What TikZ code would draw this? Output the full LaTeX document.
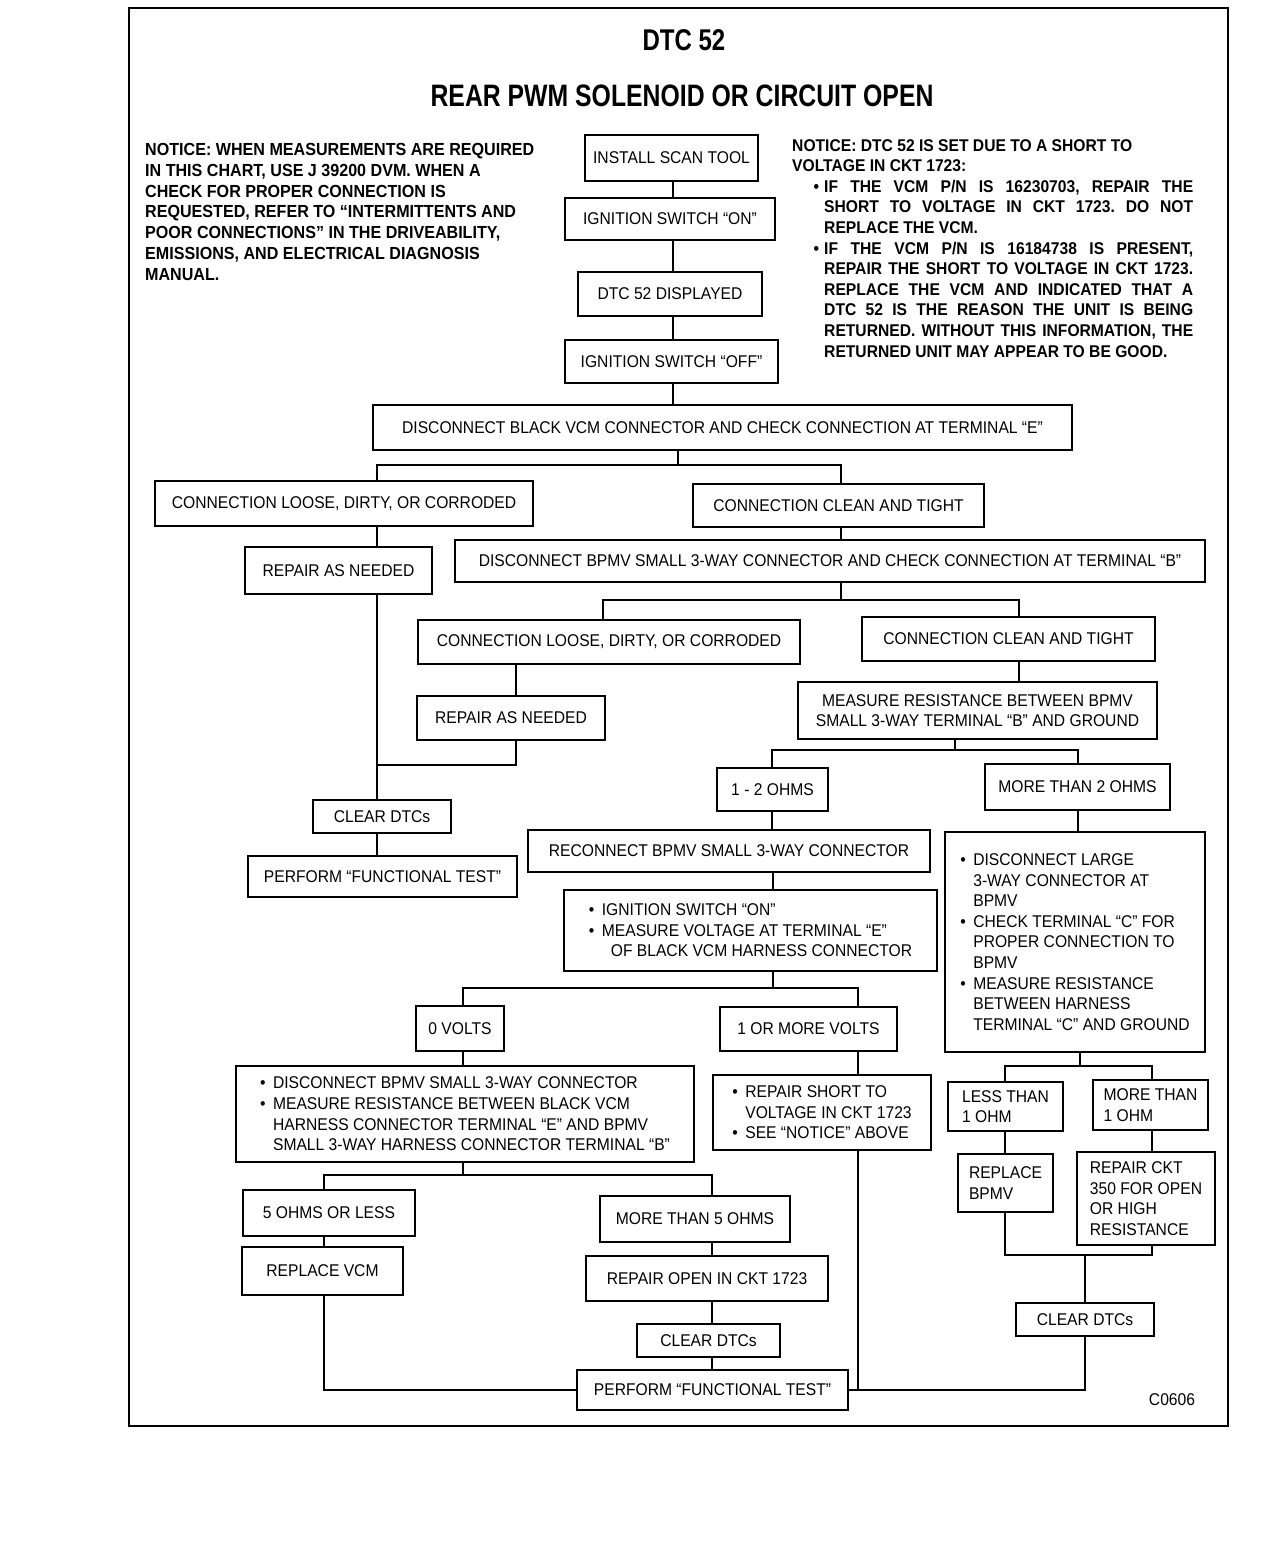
\documentclass[tikz,border=0pt]{standalone}
\usepackage{fontspec}
\setmainfont[FakeStretch=0.92]{Liberation Sans}
\newfontfamily\titlefont[FakeStretch=0.8]{Liberation Sans}
\usepackage{tikz}
\newcommand{\bul}{\makebox[13pt][l]{\textbullet}}
\newcommand{\bulgap}{\hspace*{13pt}}
\frenchspacing

\begin{document}
\begin{tikzpicture}[x=1pt, y=-1pt,
    box/.style={draw, line width=1.7pt, inner sep=0pt, align=left, font=\fontsize{17}{20.6}\selectfont},
    notice/.style={inner sep=0pt, font=\bfseries\fontsize{17.5}{20.8}\selectfont},
    link/.style={line width=1.3pt}]
    \useasboundingbox (0,0) rectangle (1264,1552);

    % cornice
    \draw[line width=2.4pt] (129,8) rectangle (1228,1426);

    % titoli
    \node[inner sep=0pt, font=\titlefont\bfseries\fontsize{30}{32}\selectfont] (dtc) at (684,40) {DTC 52};
    \node[inner sep=0pt, font=\titlefont\bfseries\fontsize{31}{33}\selectfont] (rear) at (682,96) {REAR PWM SOLENOID OR CIRCUIT OPEN};

    % note
    \node[notice, anchor=north west, align=left] (noteL) at (145,143) {NOTICE: WHEN MEASUREMENTS ARE REQUIRED\\
        IN THIS CHART, USE J 39200 DVM. WHEN A\\
        CHECK FOR PROPER CONNECTION IS\\
        REQUESTED, REFER TO “INTERMITTENTS AND\\
        POOR CONNECTIONS” IN THE DRIVEABILITY,\\
        EMISSIONS, AND ELECTRICAL DIAGNOSIS\\
        MANUAL.};
    \node[notice, font=\bfseries\fontsize{17}{20.6}\selectfont, anchor=north west, text width=401pt, align=justify] (noteR) at (792,139) {\tolerance=10000
        \noindent NOTICE: DTC 52 IS SET DUE TO A SHORT TO\newline VOLTAGE IN CKT 1723:\par
        \leftskip=32pt
        \noindent\llap{\textbullet\hspace{5pt}}IF THE VCM P/N IS 16230703, REPAIR THE\linebreak SHORT TO VOLTAGE IN CKT 1723. DO NOT\linebreak REPLACE THE VCM.\par
        \noindent\llap{\textbullet\hspace{5pt}}IF THE VCM P/N IS 16184738 IS PRESENT,\linebreak REPAIR THE SHORT TO VOLTAGE IN CKT 1723.\linebreak REPLACE THE VCM AND INDICATED THAT A\linebreak DTC 52 IS THE REASON THE UNIT IS BEING\linebreak RETURNED. WITHOUT THIS INFORMATION, THE\linebreak RETURNED UNIT MAY APPEAR TO BE GOOD.\par};

    % blocchi in alto
    \node[box, minimum width=173pt, minimum height=46pt] (scan) at (671.5,158) {INSTALL SCAN TOOL};
    \node[box, minimum width=210pt, minimum height=42pt] (ignon) at (670,219) {IGNITION SWITCH “ON”};
    \node[box, minimum width=184pt, minimum height=44pt] (shown) at (670,294) {DTC 52 DISPLAYED};
    \node[box, minimum width=213pt, minimum height=43pt] (ignoff) at (671.5,361.5) {IGNITION SWITCH “OFF”};
    \node[box, minimum width=699pt, minimum height=45pt] (discE) at (722.5,427.5) {DISCONNECT BLACK VCM CONNECTOR AND CHECK CONNECTION AT TERMINAL “E”};

    % ramo terminale E
    \node[box, minimum width=378pt, minimum height=45pt] (loose1) at (344,503.5) {CONNECTION LOOSE, DIRTY, OR CORRODED};
    \node[box, minimum width=291pt, minimum height=43pt] (clean1) at (838.5,505.5) {CONNECTION CLEAN AND TIGHT};
    \node[box, minimum width=187pt, minimum height=47pt] (repair1) at (338.5,570.5) {REPAIR AS NEEDED};
    \node[box, minimum width=750pt, minimum height=42pt] (discB) at (830,561) {DISCONNECT BPMV SMALL 3-WAY CONNECTOR AND CHECK CONNECTION AT TERMINAL “B”};
    \node[box, minimum width=138pt, minimum height=33pt] (clear1) at (382,816.5) {CLEAR DTCs};
    \node[box, minimum width=269pt, minimum height=41pt] (perf1) at (382.5,876.5) {PERFORM “FUNCTIONAL TEST”};

    % ramo terminale B
    \node[box, minimum width=382pt, minimum height=44pt] (loose2) at (609,642) {CONNECTION LOOSE, DIRTY, OR CORRODED};
    \node[box, minimum width=293pt, minimum height=44pt] (clean2) at (1008.5,639) {CONNECTION CLEAN AND TIGHT};
    \node[box, minimum width=188pt, minimum height=44pt] (repair2) at (511,718) {REPAIR AS NEEDED};
    \node[box, align=center, minimum width=359pt, minimum height=57pt] (measure) at (977.5,710.5) {MEASURE RESISTANCE BETWEEN BPMV\\ SMALL 3-WAY TERMINAL “B” AND GROUND};
    \node[box, minimum width=111pt, minimum height=43pt] (ohms12) at (772.5,789.5) {1 - 2 OHMS};
    \node[box, minimum width=185pt, minimum height=46pt] (more2) at (1077.5,787) {MORE THAN 2 OHMS};

    % 1 - 2 ohm
    \node[box, minimum width=402pt, minimum height=42pt] (reconn) at (729,851) {RECONNECT BPMV SMALL 3-WAY CONNECTOR};
    \node[box, minimum width=373pt, minimum height=81pt] (measV) at (750.5,930.5) {\bul IGNITION SWITCH “ON”\\
        \bul MEASURE VOLTAGE AT TERMINAL “E”\\
        \hspace*{22pt}OF BLACK VCM HARNESS CONNECTOR};
    \node[box, minimum width=88pt, minimum height=45pt] (volts0) at (460,1028.5) {0 VOLTS};
    \node[box, minimum width=177pt, minimum height=44pt] (volts1) at (808.5,1029) {1 OR MORE VOLTS};
    \node[box, minimum width=458pt, minimum height=96pt] (measR) at (465,1114) {\bul DISCONNECT BPMV SMALL 3-WAY CONNECTOR\\
        \bul MEASURE RESISTANCE BETWEEN BLACK VCM\\
        \bulgap HARNESS CONNECTOR TERMINAL “E” AND BPMV\\
        \bulgap SMALL 3-WAY HARNESS CONNECTOR TERMINAL “B”};
    \node[box, minimum width=218pt, minimum height=75pt] (short) at (822,1112.5) {\bul REPAIR SHORT TO\\
        \bulgap VOLTAGE IN CKT 1723\\
        \bul SEE “NOTICE” ABOVE};
    \node[box, minimum width=172pt, minimum height=46pt] (ohms5) at (329,1213) {5 OHMS OR LESS};
    \node[box, minimum width=190pt, minimum height=46pt] (more5) at (695,1219) {MORE THAN 5 OHMS};
    \node[box, minimum width=161pt, minimum height=48pt] (replVCM) at (322.5,1271) {REPLACE VCM};
    \node[box, minimum width=242pt, minimum height=45pt] (openCKT) at (707,1278.5) {REPAIR OPEN IN CKT 1723};
    \node[box, minimum width=143pt, minimum height=33pt] (clear2) at (708.5,1340.5) {CLEAR DTCs};
    \node[box, minimum width=271pt, minimum height=40pt] (perf2) at (712.5,1390) {PERFORM “FUNCTIONAL TEST”};

    % piu di 2 ohm
    \node[box, minimum width=260pt, minimum height=220pt] (large) at (1075,942) {\bul DISCONNECT LARGE\\
        \bulgap 3-WAY CONNECTOR AT\\
        \bulgap BPMV\\
        \bul CHECK TERMINAL “C” FOR\\
        \bulgap PROPER CONNECTION TO\\
        \bulgap BPMV\\
        \bul MEASURE RESISTANCE\\
        \bulgap BETWEEN HARNESS\\
        \bulgap TERMINAL “C” AND GROUND};
    \node[box, minimum width=115pt, minimum height=49pt] (less1) at (1005.5,1106.5) {LESS THAN\\ 1 OHM};
    \node[box, minimum width=115pt, minimum height=50pt] (more1) at (1150.5,1105) {MORE THAN\\ 1 OHM};
    \node[box, minimum width=95pt, minimum height=58pt] (replBPMV) at (1005.5,1183) {REPLACE\\ BPMV};
    \node[box, minimum width=138pt, minimum height=93pt] (ckt350) at (1146,1198.5) {REPAIR CKT\\ 350 FOR OPEN\\ OR HIGH\\ RESISTANCE};
    \node[box, minimum width=138pt, minimum height=33pt] (clear3) at (1085,1319.5) {CLEAR DTCs};

    \node[inner sep=0pt, font=\fontsize{17}{20}\selectfont] (code) at (1172,1400) {C0606};

    % colonne e nodi dei rami
    \coordinate (cA) at (673,0);
    \coordinate (cL) at (377,0);
    \coordinate (cR) at (841,0);
    \coordinate (cL2) at (516,0);
    \coordinate (cR2) at (1019,0);
    \coordinate (c12) at (772,0);
    \coordinate (cM2) at (1078,0);
    \coordinate (c0) at (463,0);
    \coordinate (c1V) at (858,0);
    \coordinate (cV) at (324,0);
    \coordinate (c5) at (712,0);
    \coordinate (cLT) at (1005,0);
    \coordinate (cMT) at (1152,0);
    \coordinate (s1) at (678,465);
    \coordinate (s2) at (841,600);
    \coordinate (s3) at (955,750);
    \coordinate (s4) at (773,988);
    \coordinate (s5) at (463,1175);
    \coordinate (s6) at (1080,1066);
    \coordinate (j1) at (377,765);
    \coordinate (j3) at (1085,1255);

    % collegamenti
    \draw[link] (scan.south -| cA) -- (ignon.north -| cA);
    \draw[link] (ignon.south -| cA) -- (shown.north -| cA);
    \draw[link] (shown.south -| cA) -- (ignoff.north -| cA);
    \draw[link] (ignoff.south -| cA) -- (discE.north -| cA);
    \draw[link] (discE.south -| s1) -- (s1);
    \draw[link] (loose1.north -| cL) |- (s1) -| (clean1.north -| cR);
    \draw[link] (loose1.south -| cL) -- (repair1.north -| cL);
    \draw[link] (repair1.south -| cL) -- (clear1.north -| cL);
    \draw[link] (clear1.south -| cL) -- (perf1.north -| cL);
    \draw[link] (clean1.south -| cR) -- (discB.north -| cR);
    \draw[link] (discB.south -| s2) -- (s2);
    \draw[link] (loose2.north -| 603,0) |- (s2) -| (clean2.north -| cR2);
    \draw[link] (loose2.south -| cL2) -- (repair2.north -| cL2);
    \draw[link] (repair2.south -| cL2) |- (j1);
    \draw[link] (clean2.south -| cR2) -- (measure.north -| cR2);
    \draw[link] (measure.south -| s3) -- (s3);
    \draw[link] (ohms12.north -| c12) |- (s3) -| (more2.north -| cM2);
    \draw[link] (ohms12.south -| c12) -- (reconn.north -| c12);
    \draw[link] (reconn.south -| s4) -- (measV.north -| s4);
    \draw[link] (measV.south -| s4) -- (s4);
    \draw[link] (volts0.north -| c0) |- (s4) -| (volts1.north -| c1V);
    \draw[link] (volts0.south -| c0) -- (measR.north -| c0);
    \draw[link] (volts1.south -| c1V) -- (short.north -| c1V);
    \draw[link] (measR.south -| s5) -- (s5);
    \draw[link] (ohms5.north -| cV) |- (s5) -| (more5.north -| c5);
    \draw[link] (ohms5.south -| cV) -- (replVCM.north -| cV);
    \draw[link] (replVCM.south -| cV) |- (perf2.west);
    \draw[link] (more5.south -| c5) -- (openCKT.north -| c5);
    \draw[link] (openCKT.south -| c5) -- (clear2.north -| c5);
    \draw[link] (clear2.south -| c5) -- (perf2.north -| c5);
    \draw[link] (short.south -| c1V) -- (c1V |- perf2.east);
    \draw[link] (perf2.east) -| (clear3.south);
    \draw[link] (more2.south -| cM2) -- (large.north -| cM2);
    \draw[link] (large.south -| s6) -- (s6);
    \draw[link] (less1.north -| cLT) |- (s6) -| (more1.north -| cMT);
    \draw[link] (less1.south -| cLT) -- (replBPMV.north -| cLT);
    \draw[link] (more1.south -| cMT) -- (ckt350.north -| cMT);
    \draw[link] (replBPMV.south -| cLT) |- (j3) -| (ckt350.south -| cMT);
    \draw[link] (j3) -- (clear3.north);
\end{tikzpicture}
\end{document}
